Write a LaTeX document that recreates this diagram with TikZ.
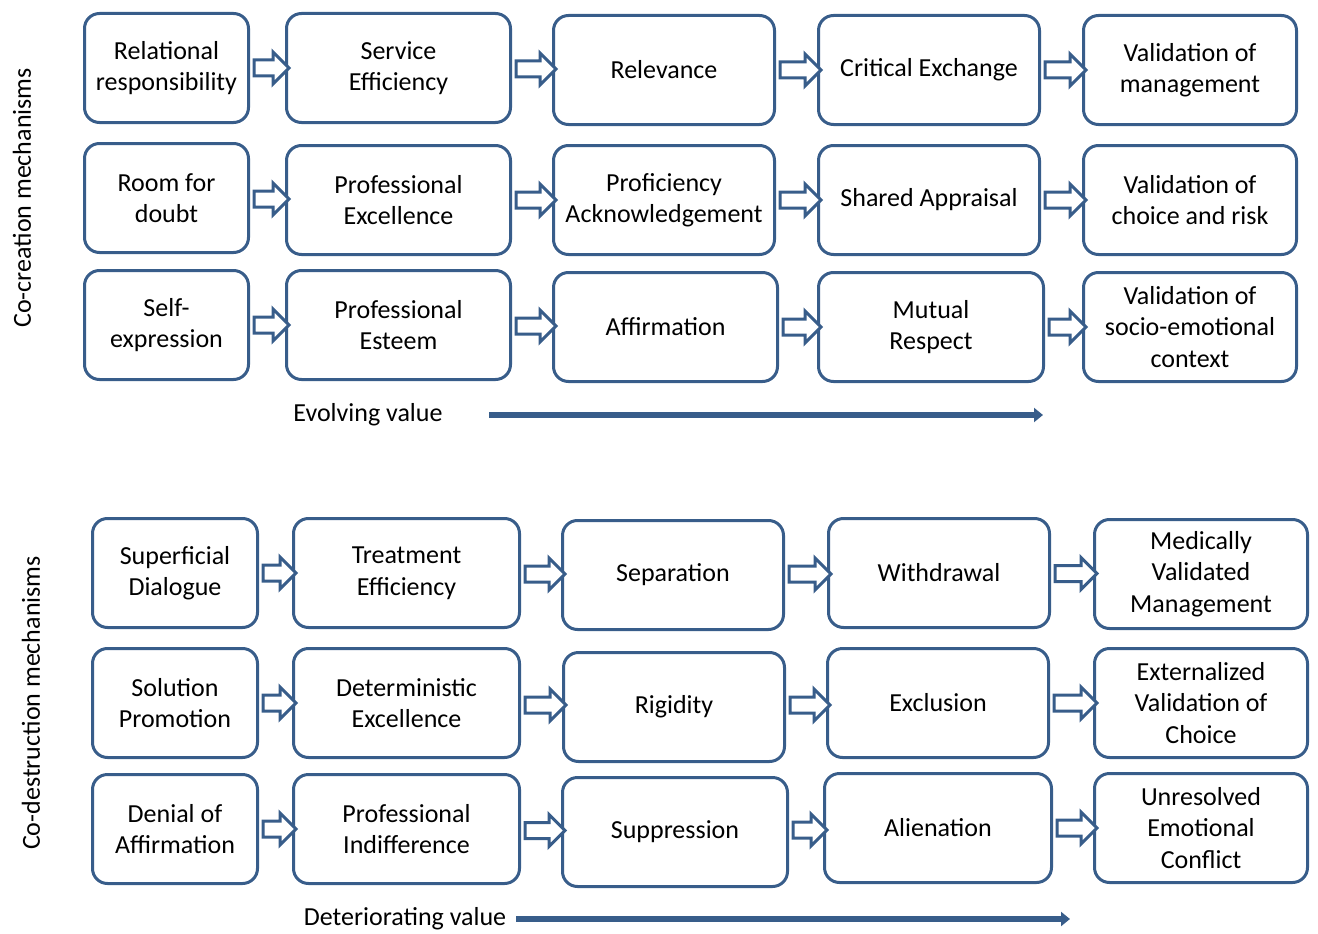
\documentclass[tikz,border=0pt]{standalone}
\usepackage{fontspec}
\setmainfont{Carlito}
\usetikzlibrary{positioning, shapes.arrows, arrows.meta, calc}
\definecolor{mechblue}{RGB}{56,93,138}
\tikzset{mech/.style={draw=mechblue, line width=3pt, rounded corners=15pt, fill=white, align=center, minimum height=109pt, inner sep=2pt, font=\fontsize{26}{31.5}\selectfont},
  flow/.style={single arrow, draw=mechblue, line width=3pt, fill=white, inner sep=6.5pt, single arrow head extend=8pt},
  trend/.style={draw=mechblue, line width=6pt, -{Triangle[length=9pt, width=14pt]}},
  side/.style={rotate=90, font=\fontsize{26}{31}\selectfont}}

\begin{document}
\begin{tikzpicture}[x=1pt, y=-1pt]
            \useasboundingbox (0,0) rectangle (1318,934);

            % co-creation
            \node[side] (co-creation) at (22,198) {Co-creation mechanisms};

            \node[mech, minimum width=164pt, anchor=north west] (relational) at (83,12) {Relational\\responsibility};
            \node[mech, minimum width=224pt, right=35pt of relational] (service) {Service\\Efficiency};
            \node[mech, minimum width=221pt, right=40pt of service, yshift=-2pt] (relevance) {Relevance};
            \node[mech, minimum width=221pt, right=41pt of relevance] (critical) {Critical Exchange};
            \node[mech, minimum width=213pt, right=41pt of critical] (validation-management) {Validation of\\management};

            \node[mech, minimum width=164pt, anchor=north west] (room) at (83,142) {Room for\\doubt};
            \node[mech, minimum width=224pt, right=35pt of room, yshift=-2pt] (excellence) {Professional\\Excellence};
            \node[mech, minimum width=221pt, right=40pt of excellence] (proficiency) {Proficiency\\Acknowledgement};
            \node[mech, minimum width=221pt, right=41pt of proficiency] (shared) {Shared Appraisal};
            \node[mech, minimum width=213pt, right=41pt of shared] (validation-choice) {Validation of\\choice and risk};

            \node[mech, minimum width=164pt, anchor=north west] (self) at (83,269) {Self-\\expression};
            \node[mech, minimum width=224pt, right=35pt of self] (esteem) {Professional\\Esteem};
            \node[mech, minimum width=224pt, right=40pt of esteem, yshift=-2pt] (affirmation) {Affirmation};
            \node[mech, minimum width=225pt, right=38pt of affirmation] (respect) {Mutual\\Respect};
            \node[mech, minimum width=213pt, right=37pt of respect] (validation-context) {Validation of\\socio-emotional\\context};

            \foreach \a/\b in {relational/service, service/relevance, relevance/critical, critical/validation-management,
                               room/excellence, excellence/proficiency, proficiency/shared, shared/validation-choice,
                               self/esteem, esteem/affirmation, affirmation/respect, respect/validation-context}
              \path let \p1=(\a.east), \p2=(\b.west) in (\a.east) -- node[flow, minimum height=\x2-\x1] {} (\b.west);

            \node[font=\fontsize{26}{31}\selectfont] (evolving) at (368,415) {Evolving value};
            \coordinate (evolving-start) at (489,415);
            \coordinate (evolving-end) at (1043,415);
            \draw[trend] (evolving-start) -- (evolving-end);

            % co-destruction
            \node[side] (co-destruction) at (31,703) {Co-destruction mechanisms};

            \node[mech, minimum width=165pt, anchor=north west] (superficial) at (91,517) {Superficial\\Dialogue};
            \node[mech, minimum width=226pt, right=33pt of superficial] (treatment) {Treatment\\Efficiency};
            \node[mech, minimum width=221pt, right=40pt of treatment, yshift=-2pt] (separation) {Separation};
            \node[mech, minimum width=221pt, right=42pt of separation, yshift=2pt] (withdrawal) {Withdrawal};
            \node[mech, minimum width=213pt, right=42pt of withdrawal, yshift=-1pt] (medically) {Medically\\Validated\\Management};

            \node[mech, minimum width=165pt, anchor=north west] (solution) at (91,647) {Solution\\Promotion};
            \node[mech, minimum width=226pt, right=33pt of solution] (deterministic) {Deterministic\\Excellence};
            \node[mech, minimum width=221pt, right=41pt of deterministic, yshift=-4pt] (rigidity) {Rigidity};
            \node[mech, minimum width=221pt, right=40pt of rigidity, yshift=4pt] (exclusion) {Exclusion};
            \node[mech, minimum width=213pt, right=43pt of exclusion] (externalized) {Externalized\\Validation of\\Choice};

            \node[mech, minimum width=165pt, anchor=north west] (denial) at (91,773) {Denial of\\Affirmation};
            \node[mech, minimum width=226pt, right=33pt of denial] (indifference) {Professional\\Indifference};
            \node[mech, minimum width=225pt, right=40pt of indifference, yshift=-3pt] (suppression) {Suppression};
            \node[mech, minimum width=227pt, right=34pt of suppression, yshift=4pt] (alienation) {Alienation};
            \node[mech, minimum width=213pt, right=40pt of alienation] (unresolved) {Unresolved\\Emotional\\Conflict};

            \foreach \a/\b in {superficial/treatment, treatment/separation, separation/withdrawal, withdrawal/medically,
                               solution/deterministic, deterministic/rigidity, rigidity/exclusion, exclusion/externalized,
                               denial/indifference, indifference/suppression, suppression/alienation, alienation/unresolved}
              \path let \p1=(\a.east), \p2=(\b.west) in (\a.east) -- node[flow, minimum height=\x2-\x1] {} (\b.west);

            \node[font=\fontsize{26}{31}\selectfont] (deteriorating) at (405,919) {Deteriorating value};
            \coordinate (deteriorating-start) at (516,919);
            \coordinate (deteriorating-end) at (1070,919);
            \draw[trend] (deteriorating-start) -- (deteriorating-end);
      \end{tikzpicture}
\end{document}
